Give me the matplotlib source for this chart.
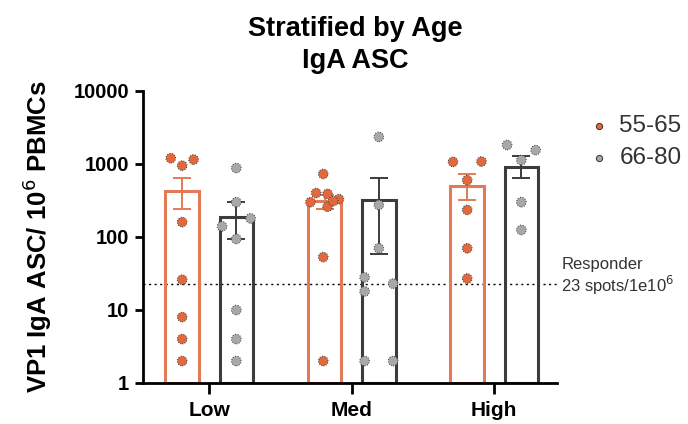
import numpy as np
import matplotlib
matplotlib.use('Agg')
import matplotlib.pyplot as plt

plt.rcParams['font.family'] = ['Liberation Sans', 'DejaVu Sans']

# groups and age strata
groups = ['Low', 'Med', 'High']
ages = ['55-65', '66-80']

# individual spots per 10^6 PBMCs
low_young = [1200, 950, 1150, 160, 26, 8, 4, 2]
low_old = [880, 300, 180, 140, 94, 10, 4, 2]
med_young = [730, 400, 390, 330, 300, 260, 310, 53, 2]
med_old = [2350, 275, 70, 28, 18, 23, 2, 2]
high_young = [1070, 1080, 600, 235, 70, 27]
high_old = [1820, 1550, 1130, 300, 125]

# bar heights (mean) and error bar ends (SEM) as read
mean_young = [430, 310, 500]
mean_old = [188, 320, 910]
err_lo_young = [240, 240, 320]
err_hi_young = [645, 380, 730]
err_lo_old = [94, 58, 640]
err_hi_old = [300, 645, 1290]

responder = 23

# horizontal spread of the dots inside each bar
jit_low_young = [-0.08, 0.0, 0.08, 0, 0, 0, 0, 0]
jit_low_old = [0.0, 0.0, 0.1, -0.1, 0.0, 0.0, 0.0, 0.0]
jit_med_young = [-0.01, -0.06, 0.02, 0.1, -0.1, 0.02, 0.06, -0.01, -0.01]
jit_med_old = [0.0, 0.0, 0.0, -0.1, -0.1, 0.1, -0.1, 0.1]
jit_high_young = [-0.1, 0.1, 0.0, 0.0, 0.0, 0.0]
jit_high_old = [-0.1, 0.1, 0.0, 0.0, 0.0]

orange = '#E2693D'
orange_bar = '#E27B55'
grey = '#A8A8A8'
dark = '#3C3C3C'

fig = plt.figure(figsize=(6.88, 4.24), dpi=100)
ax = fig.add_axes([0.2078, 0.0967, 0.6018, 0.6887])

x = np.arange(len(groups))
off = 0.19
w = 0.235

young = [low_young, med_young, high_young]
old = [low_old, med_old, high_old]
jy = [jit_low_young, jit_med_young, jit_high_young]
jo = [jit_low_old, jit_med_old, jit_high_old]

ax.bar(x - off, mean_young, width=w, bottom=1, facecolor='none', edgecolor=orange_bar, linewidth=2.2, zorder=2)
ax.bar(x + off, mean_old, width=w, bottom=1, facecolor='none', edgecolor=dark, linewidth=2.2, zorder=2)

m = np.array(mean_young)
ax.errorbar(x - off, m, yerr=[m - np.array(err_lo_young), np.array(err_hi_young) - m],
            fmt='none', ecolor=orange_bar, elinewidth=1.4, capsize=6.5, capthick=1.4, zorder=3)
m = np.array(mean_old)
ax.errorbar(x + off, m, yerr=[m - np.array(err_lo_old), np.array(err_hi_old) - m],
            fmt='none', ecolor=dark, elinewidth=1.4, capsize=6.5, capthick=1.4, zorder=3)

for i in range(len(groups)):
    ax.scatter(x[i] - off + np.array(jy[i]), young[i], s=48, color=orange,
               edgecolor='#333333', linewidth=0.7, linestyle=':', zorder=4)
    ax.scatter(x[i] + off + np.array(jo[i]), old[i], s=48, color=grey,
               edgecolor='#333333', linewidth=0.7, linestyle=':', zorder=4)

ax.axhline(responder, color='black', linestyle=(0, (1.5, 2.5)), linewidth=1, xmax=1.0,
           clip_on=False, zorder=1)

ax.set_yscale('log')
ax.set_ylim(1, 10000)
ax.set_xlim(-0.465, 2.44)
ax.set_yticks([1, 10, 100, 1000, 10000])
ax.set_yticklabels(['1', '10', '100', '1000', '10000'], fontweight='bold', fontsize=14.5)
ax.yaxis.set_minor_locator(matplotlib.ticker.NullLocator())
ax.set_xticks(x)
ax.set_xticklabels(groups, fontweight='bold', fontsize=15)

for s in ['top', 'right']:
    ax.spines[s].set_visible(False)
ax.spines['left'].set_linewidth(2)
ax.spines['bottom'].set_linewidth(2)
ax.tick_params(axis='y', length=6, width=2, pad=4)
ax.tick_params(axis='x', length=8, width=2, pad=5)

ax.set_ylabel('VP1 IgA ASC/ 10$^6$ PBMCs', fontweight='bold', fontsize=18.5, labelpad=14)

fig.text(0.516, 0.895, 'Stratified by Age\nIgA ASC', ha='center', va='center',
         fontweight='bold', fontsize=19.5, linespacing=1.3)

# legend
ax.scatter([], [], s=48, color=orange, edgecolor='#333333', linewidth=0.7, label=ages[0])
ax.scatter([], [], s=48, color=grey, edgecolor='#333333', linewidth=0.7, label=ages[1])
leg = ax.legend(loc='upper left', bbox_to_anchor=(1.03, 0.975), frameon=False, fontsize=17.5,
                handletextpad=0.35, labelspacing=0.4, markerscale=0.65, labelcolor='#333333',
                handlelength=1.0, borderpad=0.2)

ax.text(1.01, responder * 1.85, 'Responder', transform=ax.get_yaxis_transform(), fontsize=12,
        va='center', ha='left', color='#333333')
ax.text(1.01, responder * 0.95, '23 spots/1e10$^6$', transform=ax.get_yaxis_transform(),
        fontsize=12, va='center', ha='left', color='#333333')

fig.savefig('out.png', dpi=100)
